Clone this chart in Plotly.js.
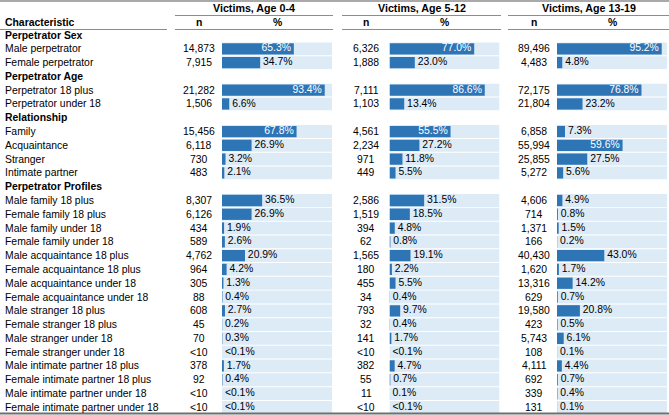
<!DOCTYPE html>
<html><head><meta charset="utf-8">
<script src="https://cdn.plot.ly/plotly-3.0.1.min.js"></script>
<style>html,body{margin:0;padding:0;background:#fff}</style>
</head><body><div id="chart" style="width:669px;height:415px"></div>
<script>
// ---------- DATA ----------
const characteristics = [
  "Perpetrator Sex","Male perpetrator","Female perpetrator",
  "Perpetrator Age","Perpetrator 18 plus","Perpetrator under 18",
  "Relationship","Family","Acquaintance","Stranger","Intimate partner",
  "Perpetrator Profiles","Male family 18 plus","Female family 18 plus","Male family under 18","Female family under 18",
  "Male acquaintance 18 plus","Female acquaintance 18 plus","Male acquaintance under 18","Female acquaintance under 18",
  "Male stranger 18 plus","Female stranger 18 plus","Male stranger under 18","Female stranger under 18",
  "Male intimate partner 18 plus","Female intimate partner 18 plus","Male intimate partner under 18","Female intimate partner under 18"
];
const sectionHeaders = ["Perpetrator Sex","Perpetrator Age","Relationship","Perpetrator Profiles"];
const groupTitles = ["Victims, Age 0-4","Victims, Age 5-12","Victims, Age 13-19"];
const columnTitles = ["Characteristic","n","%"];

const n_0_4 = [null,14873,7915, null,21282,1506, null,15456,6118,730,483,
  null,8307,6126,434,589,4762,964,305,88,608,45,70,"<10",378,92,"<10","<10"];
const pct_0_4 = [null,65.3,34.7, null,93.4,6.6, null,67.8,26.9,3.2,2.1,
  null,36.5,26.9,1.9,2.6,20.9,4.2,1.3,0.4,2.7,0.2,0.3,"<0.1",1.7,0.4,"<0.1","<0.1"];

const n_5_12 = [null,6326,1888, null,7111,1103, null,4561,2234,971,449,
  null,2586,1519,394,62,1565,180,455,34,793,32,141,"<10",382,55,11,"<10"];
const pct_5_12 = [null,77.0,23.0, null,86.6,13.4, null,55.5,27.2,11.8,5.5,
  null,31.5,18.5,4.8,0.8,19.1,2.2,5.5,0.4,9.7,0.4,1.7,"<0.1",4.7,0.7,0.1,"<0.1"];

const n_13_19 = [null,89496,4483, null,72175,21804, null,6858,55994,25855,5272,
  null,4606,714,1371,166,40430,1620,13316,629,19580,423,5743,108,4111,692,339,131];
const pct_13_19 = [null,95.2,4.8, null,76.8,23.2, null,7.3,59.6,27.5,5.6,
  null,4.9,0.8,1.5,0.2,43.0,1.7,14.2,0.7,20.8,0.5,6.1,0.1,4.4,0.7,0.4,0.1];

const groupN = [n_0_4, n_5_12, n_13_19];
const groupPct = [pct_0_4, pct_5_12, pct_13_19];

// ---------- LAYOUT CONSTANTS ----------
const W = 669, H = 415;
const FONT = "Liberation Sans, Arial, sans-serif";
const FS = 10.4;
const TXT = "#000000";
const BAR = "#2E75B6", BG = "#DDEBF7", LINE = "#8c8c8c";
const pitch = 13.79, firstCenter = 35;
const yTop = -firstCenter / pitch, yBot = (H - firstCenter) / pitch;
const px2paperY = p => 1 - p / H;
const barDomains = [[222, 332], [389.5, 499.5], [557, 667]];
const nCenters = [198.5, 366, 534];
const groupSpans = [[175, 333], [342, 501], [508, 669]];

function fmtN(v) {
  if (typeof v === "string") return v;
  return String(v).replace(/\B(?=(\d{3})+(?!\d))/g, ",");
}
function fmtPct(v) {
  if (typeof v === "string") return v + "%";
  return v.toFixed(1) + "%";
}

const traces = [];
const annotations = [];
const shapes = [];
const layout = {
  width: W, height: H,
  margin: {l: 0, r: 0, t: 0, b: 0, pad: 0},
  paper_bgcolor: "#ffffff", plot_bgcolor: "rgba(0,0,0,0)",
  showlegend: false, barmode: "overlay",
  font: {family: FONT, size: FS, color: TXT},
  yaxis: {range: [yBot, yTop], visible: false, fixedrange: true},
  hovermode: false
};

groupPct.forEach((pcts, g) => {
  const axName = g === 0 ? "x" : "x" + (g + 1);
  const layoutKey = g === 0 ? "xaxis" : "xaxis" + (g + 1);
  layout[layoutKey] = {
    domain: [barDomains[g][0] / W, barDomains[g][1] / W],
    range: [0, 100], visible: false, fixedrange: true, anchor: "y"
  };
  const idx = [];
  pcts.forEach((v, i) => { if (v !== null) idx.push(i); });
  const vals = idx.map(i => typeof pcts[i] === "number" ? pcts[i] : 0);

  traces.push({
    type: "bar", orientation: "h", xaxis: axName, yaxis: "y",
    y: idx, x: idx.map(() => 100), width: 0.93,
    marker: {color: BG, line: {width: 0}}, hoverinfo: "skip"
  });
  traces.push({
    type: "bar", orientation: "h", xaxis: axName, yaxis: "y",
    y: idx, x: vals, width: 0.82,
    marker: {color: BAR, line: {width: 0}}, hoverinfo: "skip"
  });
  traces.push({
    type: "scatter", mode: "text+markers", xaxis: axName, yaxis: "y",
    y: idx, x: vals,
    text: idx.map(i => fmtPct(pcts[i])),
    textposition: vals.map(v => v >= 50 ? "middle left" : "middle right"),
    textfont: {family: FONT, size: FS, color: vals.map(v => v >= 50 ? "#ffffff" : TXT)},
    marker: {size: 3, color: "rgba(0,0,0,0)"},
    cliponaxis: false, hoverinfo: "skip"
  });

  // n values
  idx.forEach(i => {
    annotations.push({
      xref: "paper", yref: "y", x: nCenters[g] / W, y: i,
      text: fmtN(groupN[g][i]), showarrow: false, xanchor: "center", yanchor: "middle",
      font: {family: FONT, size: FS, color: TXT}
    });
  });
  // group title
  annotations.push({
    xref: "paper", yref: "paper",
    x: (groupSpans[g][0] + groupSpans[g][1]) / 2 / W, y: px2paperY(8.5),
    text: "<b>" + groupTitles[g] + "</b>", showarrow: false, xanchor: "center", yanchor: "middle",
    font: {family: FONT, size: FS + 0.3, color: TXT}
  });
  // column titles n and %
  annotations.push({
    xref: "paper", yref: "paper", x: nCenters[g] / W, y: px2paperY(22.5),
    text: "<b>" + columnTitles[1] + "</b>", showarrow: false, xanchor: "center", yanchor: "middle",
    font: {family: FONT, size: FS, color: TXT}
  });
  annotations.push({
    xref: "paper", yref: "paper", x: (barDomains[g][0] + barDomains[g][1]) / 2 / W, y: px2paperY(22.5),
    text: "<b>" + columnTitles[2] + "</b>", showarrow: false, xanchor: "center", yanchor: "middle",
    font: {family: FONT, size: FS, color: TXT}
  });
  // underline for group title
  shapes.push({type: "line", xref: "paper", yref: "paper",
    x0: groupSpans[g][0] / W, x1: groupSpans[g][1] / W, y0: px2paperY(15.5), y1: px2paperY(15.5),
    line: {color: LINE, width: 1}});
  // header bottom line segment
  shapes.push({type: "line", xref: "paper", yref: "paper",
    x0: groupSpans[g][0] / W, x1: groupSpans[g][1] / W, y0: px2paperY(29.5), y1: px2paperY(29.5),
    line: {color: LINE, width: 1}});
});

// Characteristic column
annotations.push({
  xref: "paper", yref: "paper", x: 3 / W, y: px2paperY(22.5),
  text: "<b>" + columnTitles[0] + "</b>", showarrow: false, xanchor: "left", yanchor: "middle",
  font: {family: FONT, size: FS, color: TXT}
});
characteristics.forEach((c, i) => {
  const isHdr = sectionHeaders.includes(c);
  annotations.push({
    xref: "paper", yref: "y", x: 3 / W, y: i,
    text: isHdr ? "<b>" + c + "</b>" : c, showarrow: false, xanchor: "left", yanchor: "middle",
    font: {family: FONT, size: FS, color: TXT}
  });
});
shapes.push({type: "line", xref: "paper", yref: "paper",
  x0: 0, x1: 167 / W, y0: px2paperY(29.5), y1: px2paperY(29.5), line: {color: LINE, width: 1}});
// top and bottom rules
shapes.push({type: "line", xref: "paper", yref: "paper",
  x0: 0, x1: 1, y0: px2paperY(1), y1: px2paperY(1), line: {color: LINE, width: 1.5}});
shapes.push({type: "line", xref: "paper", yref: "paper",
  x0: 0, x1: 1, y0: px2paperY(413.5), y1: px2paperY(413.5), line: {color: "#6f6f6f", width: 2}});

layout.annotations = annotations;
layout.shapes = shapes;

Plotly.newPlot("chart", traces, layout, {staticPlot: true, displayModeBar: false});
</script>
</body></html>
